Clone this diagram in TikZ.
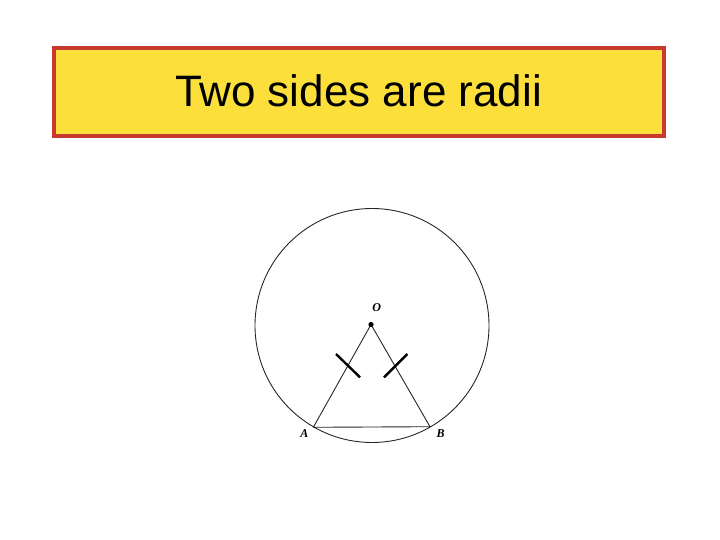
\documentclass[tikz,border=0pt]{standalone}
\usepackage{fontspec}
\setmainfont{Liberation Sans}
\newfontfamily\serifit{Liberation Serif}
\definecolor{boxred}{HTML}{C9392E}
\definecolor{boxyellow}{HTML}{FDDF3B}
\tikzset{
  geo/.style={line width=0.9pt, black!85},
  tick/.style={line width=2.4pt, black},
  ptlabel/.style={font=\serifit\bfseries\itshape\fontsize{12}{14}\selectfont, inner sep=0pt}
}
\begin{document}
\begin{tikzpicture}[x=1pt,y=-1pt]
\useasboundingbox (0,0) rectangle (720,540);
\node[draw=boxred, line width=4pt, fill=boxyellow, minimum width=610pt, minimum height=88pt, inner sep=0pt] (title) at (359,92.5) {};
\node[font=\fontsize{44}{50}\selectfont, anchor=base, inner sep=0pt] (titletext) at (358.5,107) {Two sides are radii};
\coordinate (O) at (371,324.5);
\coordinate (A) at (313.3,427.3);
\coordinate (B) at (430,426.7);
\draw[geo] (372,325.5) circle (117);
\draw[geo] (A) -- (O) -- (B) -- (A);
\fill (O) circle (2.6);
\coordinate (t1a) at (336,354);
\coordinate (t1b) at (360,377.3);
\coordinate (t2a) at (384,377.3);
\coordinate (t2b) at (407.3,354);
\draw[tick] (t1a) -- (t1b);
\draw[tick] (t2a) -- (t2b);
\node[ptlabel] (Ol) at (376.7,307.3) {O};
\node[ptlabel] (Al) at (304.3,433.3) {A};
\node[ptlabel] (Bl) at (440.7,433.3) {B};
\end{tikzpicture}
\end{document}
